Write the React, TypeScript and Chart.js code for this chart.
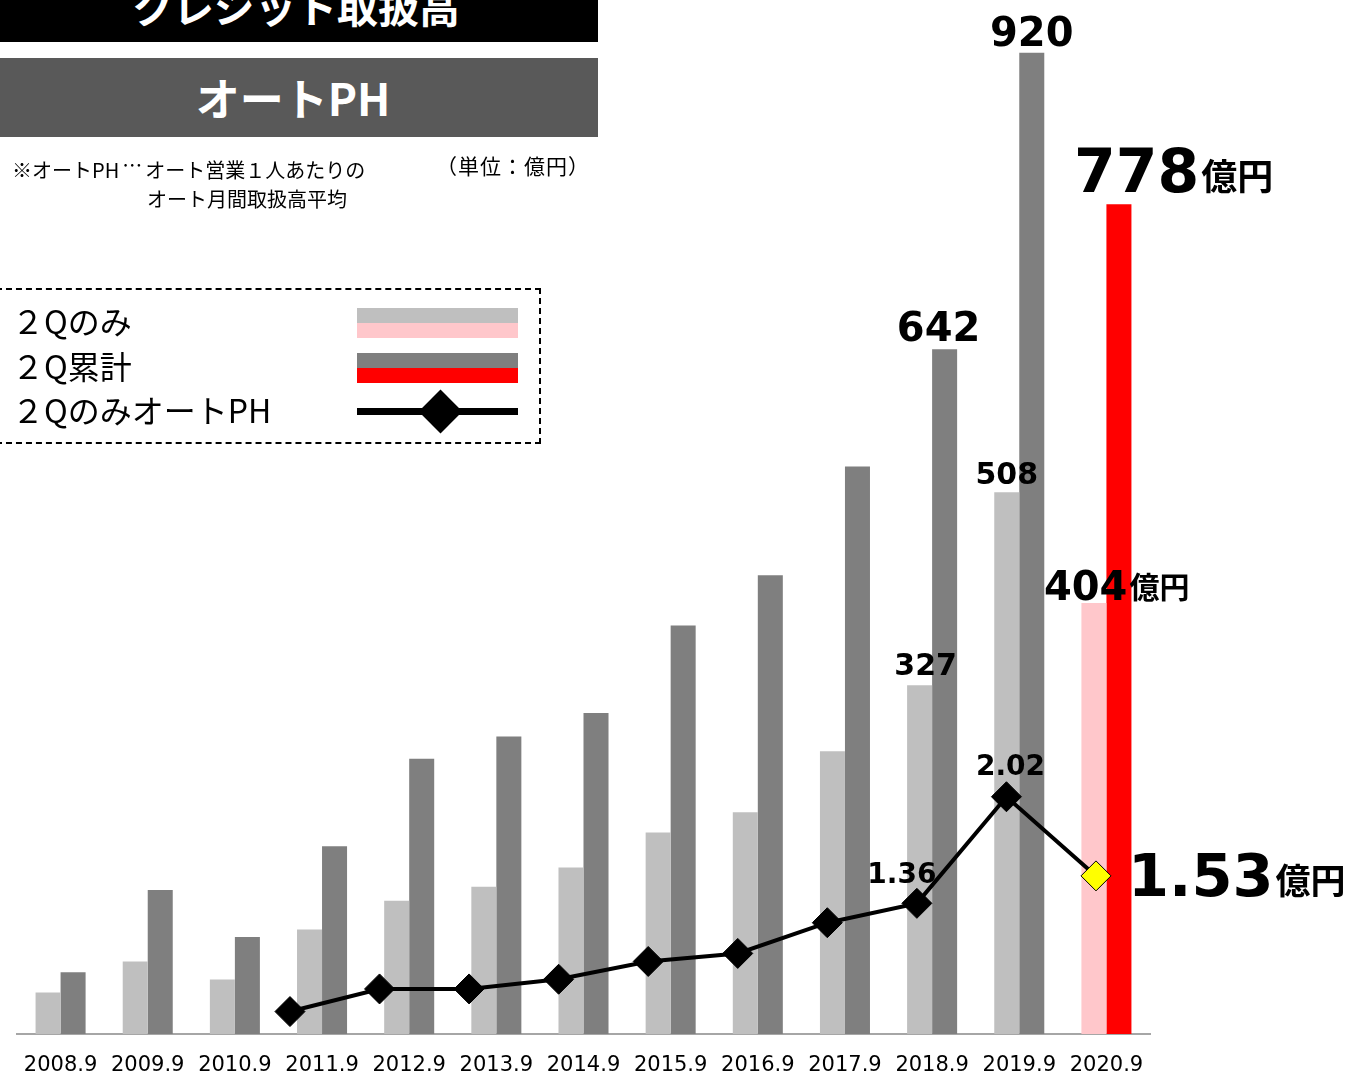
import React, { useEffect, useRef } from 'react';
import { Chart, registerables } from 'chart.js';

Chart.register(...registerables);

// ---- data ----
const categories = ['2008.9', '2009.9', '2010.9', '2011.9', '2012.9', '2013.9', '2014.9', '2015.9', '2016.9', '2017.9', '2018.9', '2019.9', '2020.9'];
const q2OnlyValues = [39, 68, 51, 98, 125, 138, 156, 189, 208, 265, 327, 508, 404];
const q2CumulativeValues = [58, 135, 91, 176, 258, 279, 301, 383, 430, 532, 642, 920, 778];
const autoPHValues: (number | null)[] = [null, null, null, 0.69, 0.83, 0.83, 0.89, 1.0, 1.05, 1.24, 1.36, 2.02, 1.53];
const highlightIndex = 12;

const titleText = 'クレジット取扱高';
const subtitleText = 'オートPH';
const noteLine1a = '※オートPH';
const noteEllipsis = '…';
const noteLine1b = 'オート営業１人あたりの';
const noteLine2 = 'オート月間取扱高平均';
const unitNote = '（単位：億円）';
const legendLabels = ['２Qのみ', '２Q累計', '２QのみオートPH'];
const unitText = '億円';

// ---- styles ----
const LIGHT = '#BFBFBF';
const DARK = '#7F7F7F';
const PINK = '#FFC7CB';
const RED = '#FF0000';
const NUM_FONT = "'DejaVu Sans', 'Noto Sans CJK JP', sans-serif";
const JP_FONT = "'Noto Sans CJK JP', 'Noto Sans', sans-serif";
const CANVAS_W = 1352;
const CANVAS_H = 1097;

type LabelSpec = {
  ds: 'light' | 'dark' | 'ph';
  index: number;
  size: number;
  align: 'center' | 'left';
  dx: number;
  dy: number;
  unitSize?: number;
  decimals?: number;
};

const labelSpecs: LabelSpec[] = [
  { ds: 'dark', index: 11, size: 40, align: 'center', dx: 0, dy: -7 },
  { ds: 'dark', index: 10, size: 40, align: 'center', dx: -6, dy: -8 },
  { ds: 'light', index: 11, size: 30, align: 'center', dx: 0, dy: -8 },
  { ds: 'light', index: 10, size: 30, align: 'center', dx: 6, dy: -10 },
  { ds: 'light', index: 12, size: 40, align: 'left', dx: -50, dy: -3, unitSize: 30 },
  { ds: 'dark', index: 12, size: 60, align: 'left', dx: -45, dy: -12, unitSize: 36 },
  { ds: 'ph', index: 11, size: 28, align: 'center', dx: 4, dy: -22, decimals: 2 },
  { ds: 'ph', index: 10, size: 28, align: 'center', dx: -15, dy: -20, decimals: 2 },
  { ds: 'ph', index: 12, size: 59, align: 'left', dx: 32, dy: 20, unitSize: 35, decimals: 2 },
];

function makeLabelPlugin(kinds: ('light' | 'dark' | 'ph')[]) {
  return {
    id: 'valueLabels',
    afterDatasetsDraw(chart: any) {
      const ctx = chart.ctx;
      ctx.save();
      ctx.fillStyle = '#000';
      ctx.textBaseline = 'alphabetic';
      for (const s of labelSpecs) {
        if (!kinds.includes(s.ds)) continue;
        const meta = chart.getDatasetMeta(s.ds === 'dark' ? 1 : 0);
        let el: any;
        let value: number | null;
        if (s.ds === 'ph') {
          const pointIdx = autoPHValues.slice(0, s.index + 1).filter((v) => v !== null).length - 1;
          el = meta.data[pointIdx];
          value = autoPHValues[s.index];
        } else {
          el = meta.data[s.index];
          value = s.ds === 'light' ? q2OnlyValues[s.index] : q2CumulativeValues[s.index];
        }
        if (!el || value === null) continue;
        const text = s.decimals ? value.toFixed(s.decimals) : String(value);
        ctx.font = `bold ${s.size}px ${NUM_FONT}`;
        const x = el.x + s.dx;
        const y = el.y + s.dy;
        if (s.align === 'center') {
          ctx.textAlign = 'center';
          ctx.fillText(text, x, y);
        } else {
          ctx.textAlign = 'left';
          ctx.fillText(text, x, y);
          const w = ctx.measureText(text).width;
          if (s.unitSize) {
            ctx.font = `bold ${s.unitSize}px ${JP_FONT}`;
            ctx.fillText(unitText, x + w + 2, y - 2);
          }
        }
      }
      ctx.restore();
    },
  };
}

function BarChartCanvas() {
  const ref = useRef<HTMLCanvasElement | null>(null);
  useEffect(() => {
    if (!ref.current) return;
    const chart = new Chart(ref.current, {
      type: 'bar',
      data: {
        labels: categories,
        datasets: [
          {
            label: legendLabels[0],
            data: q2OnlyValues,
            backgroundColor: categories.map((_, i) => (i === highlightIndex ? PINK : LIGHT)),
            borderWidth: 0,
            categoryPercentage: 0.574,
            barPercentage: 1,
          },
          {
            label: legendLabels[1],
            data: q2CumulativeValues,
            backgroundColor: categories.map((_, i) => (i === highlightIndex ? RED : DARK)),
            borderWidth: 0,
            categoryPercentage: 0.574,
            barPercentage: 1,
          },
        ],
      },
      options: {
        responsive: false,
        animation: false,
        layout: { padding: { left: 17, right: 202, top: 10, bottom: 0 } },
        plugins: { legend: { display: false }, tooltip: { enabled: false } },
        scales: {
          x: {
            type: 'category',
            grid: { display: false, drawTicks: false },
            border: { display: true, color: '#A6A6A6', width: 2 },
            ticks: {
              color: '#000',
              padding: 21,
              maxRotation: 0,
              autoSkip: false,
              font: { family: NUM_FONT, size: 21, lineHeight: 1 },
            },
          },
          y: { display: false, min: 0, max: 960 },
        },
      },
      plugins: [makeLabelPlugin(['light', 'dark'])],
    } as any);
    return () => chart.destroy();
  }, []);
  return <canvas ref={ref} width={CANVAS_W} height={CANVAS_H} style={{ position: 'absolute', left: 0, top: 0 }} />;
}

function LineChartCanvas() {
  const ref = useRef<HTMLCanvasElement | null>(null);
  useEffect(() => {
    if (!ref.current) return;
    const lineData = autoPHValues
      .map((v, i) => (v === null ? null : { x: i, y: v }))
      .filter((p) => p !== null) as { x: number; y: number }[];
    const pointColors = lineData.map((p) => (p.x === highlightIndex ? '#FFFF00' : '#000000'));
    const chart = new Chart(ref.current, {
      type: 'line',
      data: {
        datasets: [
          {
            label: legendLabels[2],
            data: lineData,
            borderColor: '#000',
            borderWidth: 4,
            pointStyle: 'rectRot',
            pointRadius: 15,
            pointBackgroundColor: pointColors,
            pointBorderColor: '#000',
            pointBorderWidth: 1,
          },
        ],
      },
      options: {
        responsive: false,
        animation: false,
        layout: { padding: { left: 17, right: 202, top: 16, bottom: CANVAS_H - 1034 } },
        plugins: { legend: { display: false }, tooltip: { enabled: false } },
        scales: {
          x: { type: 'linear', display: false, offset: false, min: -0.048, max: 12.603 },
          y: { type: 'linear', display: false, min: 0.551, max: 6.854 },
        },
      },
      plugins: [makeLabelPlugin(['ph'])],
    } as any);
    return () => chart.destroy();
  }, []);
  return <canvas ref={ref} width={CANVAS_W} height={CANVAS_H} style={{ position: 'absolute', left: 0, top: 0 }} />;
}

const noteStyle: any = { position: 'absolute', fontFamily: JP_FONT, fontSize: 20, lineHeight: '21px', color: '#000', whiteSpace: 'nowrap' };

export default function App() {
  const swatch = (top: number, color: string) => (
    <div style={{ position: 'absolute', left: 357, top, width: 161, height: 15, background: color }} />
  );
  return (
    <div style={{ position: 'absolute', left: 0, top: 0, width: 1352, height: 1075, overflow: 'hidden', background: '#fff' }}>
      <BarChartCanvas />
      <LineChartCanvas />
      <div style={{ position: 'absolute', left: 0, top: 0, width: 598, height: 42, background: '#000', overflow: 'hidden' }}>
        <div style={{ position: 'absolute', left: -3, top: -15, width: 598, textAlign: 'center', color: '#fff', fontFamily: JP_FONT, fontWeight: 700, fontSize: 41, lineHeight: '41px', whiteSpace: 'nowrap' }}>{titleText}</div>
      </div>
      <div style={{ position: 'absolute', left: 0, top: 58, width: 598, height: 79, background: '#595959', overflow: 'hidden' }}>
        <div style={{ position: 'absolute', left: -6, top: 17, width: 598, textAlign: 'center', color: '#fff', fontFamily: JP_FONT, fontWeight: 700, fontSize: 44, lineHeight: '44px', whiteSpace: 'nowrap' }}>{subtitleText}</div>
      </div>
      <div style={{ ...noteStyle, left: 12, top: 159 }} lang="ja">
        {noteLine1a}
        <span style={{ display: 'inline-block', transform: 'translateY(-5px)', padding: '0 3px' }}>{noteEllipsis}</span>
        {noteLine1b}
      </div>
      <div style={{ ...noteStyle, left: 147, top: 188 }}>{noteLine2}</div>
      <div style={{ ...noteStyle, left: 436, top: 155, fontSize: 21, letterSpacing: 1 }}>{unitNote}</div>

      <div style={{ position: 'absolute', left: -4, top: 288, width: 545, height: 156, boxSizing: 'border-box', border: '2px dashed #000' }} />
      {legendLabels.map((t, i) => (
        <div key={t} style={{ position: 'absolute', left: 12, top: 304 + i * 44.5, fontFamily: JP_FONT, fontSize: 32, lineHeight: '32px', color: '#000', whiteSpace: 'nowrap' }}>{t}</div>
      ))}
      {swatch(308, LIGHT)}
      {swatch(323, PINK)}
      {swatch(353, DARK)}
      {swatch(368, RED)}
      <div style={{ position: 'absolute', left: 357, top: 408, width: 161, height: 7, background: '#000' }} />
      <div style={{ position: 'absolute', left: 440 - 15.5, top: 411 - 15.5, width: 31, height: 31, background: '#000', transform: 'rotate(45deg)' }} />
    </div>
  );
}
